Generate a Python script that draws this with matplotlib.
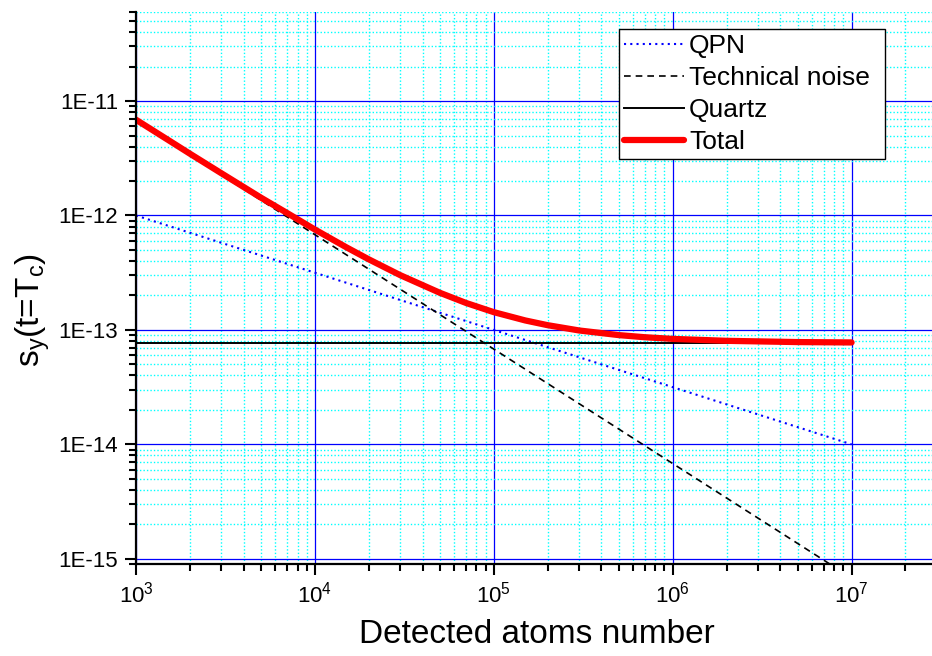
import math
import matplotlib
matplotlib.use('Agg')
import matplotlib.pyplot as plt
import matplotlib.ticker as ticker

plt.rcParams['font.family'] = ['Liberation Sans', 'DejaVu Sans']
plt.rcParams['mathtext.fontset'] = 'custom'
plt.rcParams['mathtext.rm'] = 'Liberation Sans'
plt.rcParams['mathtext.it'] = 'Liberation Sans:italic'

# detected atom number grid and the noise contributions
atoms = [1e3, 1.5e3, 2e3, 3e3, 5e3, 7e3, 1e4, 1.5e4, 2e4, 3e4, 5e4, 7e4,
         1e5, 1.5e5, 2e5, 3e5, 5e5, 7e5, 1e6, 2e6, 5e6, 1e7]
total = [6.87e-12, 4.61e-12, 3.47e-12, 2.34e-12, 1.43e-12, 1.05e-12,
         7.54e-13, 5.27e-13, 4.14e-13, 3.01e-13, 2.11e-13, 1.72e-13,
         1.43e-13, 1.21e-13, 1.10e-13, 9.89e-14, 9.01e-14, 8.63e-14,
         8.35e-14, 8.03e-14, 7.83e-14, 7.77e-14]
ends = [1e3, 1e7]
qpn = [1e-12, 1e-14]
technical = [6.8e-12, 6.8e-16]
quartz = [7.7e-14, 7.7e-14]

fig = plt.figure(figsize=(9.32, 6.56), dpi=100)
ax = fig.add_axes([0.1459, 0.1402, 0.8594, 0.8415])
ax.set_xscale('log')
ax.set_yscale('log')
ax.set_xlim(1e3, 3e7)
ax.set_ylim(9e-16, 6e-11)

ax.grid(which='minor', color='#00ffff', linestyle=(0, (1, 1.5)), linewidth=1)
ax.grid(which='major', color='#0000ff', linestyle='-', linewidth=0.9)
ax.set_axisbelow(True)

ax.plot(ends, qpn, color='#0000ff', linestyle=(0, (1, 2)), linewidth=1.5, label='QPN')
ax.plot(ends, technical, color='black', linestyle=(0, (4, 3)), linewidth=1.2,
        label='Technical noise')
ax.plot(ends, quartz, color='black', linestyle='-', linewidth=1.4, label='Quartz')
ax.plot(atoms, total, color='#ff0000', linewidth=4.5, solid_capstyle='round',
        label='Total')

for side in ['top', 'right']:
    ax.spines[side].set_visible(False)
for side in ['left', 'bottom']:
    ax.spines[side].set_linewidth(1.6)

ax.xaxis.set_major_locator(ticker.LogLocator(base=10, numticks=10))
ax.xaxis.set_minor_locator(ticker.LogLocator(base=10, subs=range(2, 10), numticks=20))
ax.yaxis.set_major_locator(ticker.LogLocator(base=10, numticks=10))
ax.yaxis.set_minor_locator(ticker.LogLocator(base=10, subs=range(2, 10), numticks=20))
ax.yaxis.set_major_formatter(ticker.FuncFormatter(
    lambda v, p: '1E{:d}'.format(int(round(math.log10(v))))))
ax.yaxis.set_minor_formatter(ticker.NullFormatter())
ax.xaxis.set_minor_formatter(ticker.NullFormatter())

ax.tick_params(which='major', direction='out', length=8, width=1.5, labelsize=16,
               pad=5)
ax.tick_params(which='minor', direction='out', length=5, width=1.5)

ax.set_xlabel('Detected atoms number', fontsize=24, labelpad=8)
ax.set_ylabel(r's$_{\mathregular{y}}$(t=T$_{\mathregular{c}}$)', fontsize=24)
ax.yaxis.set_label_coords(-0.105, 0.46)

# legend box spans a fixed width, entries stay left-aligned
leg = ax.legend(loc='upper left',
                bbox_to_anchor=(619 / 932, 1 - 29 / 656, 266 / 932, 0),
                bbox_transform=fig.transFigure, mode='expand', fontsize=19,
                handlelength=2.25, fancybox=False, framealpha=1,
                edgecolor='black', borderaxespad=0, labelspacing=0.3,
                handletextpad=0.2, borderpad=0.2)
leg.get_frame().set_linewidth(1.0)

fig.savefig('out.png', dpi=100)
